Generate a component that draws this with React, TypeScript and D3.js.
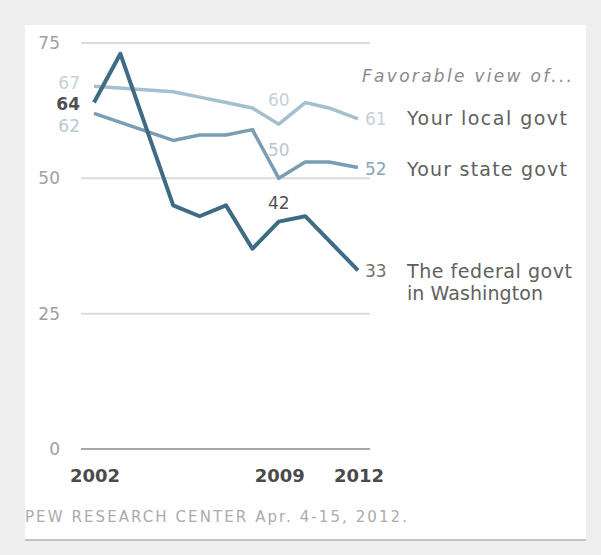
import React from "react";
import * as d3 from "d3";

const fedYears = [2002, 2003, 2005, 2006, 2007, 2008, 2009, 2010, 2012];
const fedValues = [64, 73, 45, 43, 45, 37, 42, 43, 33];
const otherYears = [2002, 2005, 2006, 2007, 2008, 2009, 2010, 2010.9, 2012];
const localValues = [67, 66, 65, 64, 63, 60, 64, 63, 61];
const stateValues = [62, 57, 58, 58, 59, 50, 53, 53, 52];
const yTicks = [0, 25, 50, 75];
const xTicks = [2002, 2009, 2012];

const FONT = "'DejaVu Sans', Verdana, sans-serif";
const C_FED = "#3f6b84";
const C_STATE = "#7a9db3";
const C_LOCAL = "#a4bfcf";

export default function App() {
  const x = d3.scaleLinear().domain([2002, 2012]).range([94, 358]);
  const y = d3.scaleLinear().domain([0, 75]).range([449, 43]);
  const line = d3
    .line<[number, number]>()
    .x((d) => x(d[0]))
    .y((d) => y(d[1]));
  const fed = line(fedYears.map((yr, i) => [yr, fedValues[i]]) as [number, number][]);
  const loc = line(otherYears.map((yr, i) => [yr, localValues[i]]) as [number, number][]);
  const st = line(otherYears.map((yr, i) => [yr, stateValues[i]]) as [number, number][]);

  const last = fedValues.length - 1;
  const i2009 = fedYears.indexOf(2009);
  const j2009 = otherYears.indexOf(2009);

  return (
    <svg
      width={601}
      height={555}
      style={{ position: "absolute", left: 0, top: 0, display: "block" }}
      fontFamily={FONT}
    >
      <rect x={0} y={0} width={601} height={555} fill="#eeeeee" />
      <rect x={25} y={25} width={561} height={514} fill="#ffffff" />
      <line x1={25} x2={586} y1={540} y2={540} stroke="#c4c4c4" strokeWidth={2} />

      {yTicks.map((t) => (
        <g key={t}>
          <line
            x1={81}
            x2={370}
            y1={y(t)}
            y2={y(t)}
            stroke={t === 0 ? "#a8a8a8" : "#dcdcdc"}
            strokeWidth={2}
          />
          <text
            x={60}
            y={y(t)}
            dy="0.35em"
            textAnchor="end"
            fontSize={17}
            fill="#a0a0a0"
          >
            {t}
          </text>
        </g>
      ))}

      {xTicks.map((t) => (
        <text
          key={t}
          x={x(t) + 1}
          y={482}
          textAnchor="middle"
          fontSize={18}
          fontWeight="bold"
          fill="#4a4a4a"
        >
          {t}
        </text>
      ))}

      <path d={loc ?? ""} fill="none" stroke={C_LOCAL} strokeWidth={3.5} strokeLinejoin="round" />
      <path d={st ?? ""} fill="none" stroke={C_STATE} strokeWidth={3.5} strokeLinejoin="round" />
      <path d={fed ?? ""} fill="none" stroke={C_FED} strokeWidth={4} strokeLinejoin="round" />

      {/* start labels */}
      <text x={80} y={y(localValues[0]) - 3} dy="0.35em" textAnchor="end" fontSize={17} fill="#c3d1da">
        {localValues[0]}
      </text>
      <text x={80} y={y(fedValues[0]) + 2} dy="0.35em" textAnchor="end" fontSize={17} fontWeight="bold" fill="#505050">
        {fedValues[0]}
      </text>
      <text x={80} y={y(stateValues[0]) + 13} dy="0.35em" textAnchor="end" fontSize={17} fill="#b9c9d3">
        {stateValues[0]}
      </text>

      {/* 2009 labels */}
      <text x={x(2009)} y={y(localValues[j2009]) - 24} dy="0.35em" textAnchor="middle" fontSize={17} fill="#c6d0d7">
        {localValues[j2009]}
      </text>
      <text x={x(2009)} y={y(stateValues[j2009]) - 28} dy="0.35em" textAnchor="middle" fontSize={17} fill="#b9c7d1">
        {stateValues[j2009]}
      </text>
      <text x={x(2009)} y={y(fedValues[i2009]) - 19} dy="0.35em" textAnchor="middle" fontSize={17} fill="#505050">
        {fedValues[i2009]}
      </text>

      {/* end labels */}
      <text x={365} y={y(localValues[last])} dy="0.35em" fontSize={17} fill="#c6d0d8">
        {localValues[last]}
      </text>
      <text x={365} y={y(stateValues[last]) + 2} dy="0.35em" fontSize={17} fill="#88a4b6">
        {stateValues[last]}
      </text>
      <text x={365} y={y(fedValues[last]) + 1} dy="0.35em" fontSize={17} fill="#707070">
        {fedValues[last]}
      </text>

      <text x={407} y={y(localValues[last])} dy="0.35em" fontSize={19} fill="#606060" textLength={160} lengthAdjust="spacing">
        Your local govt
      </text>
      <text x={407} y={y(stateValues[last]) + 2} dy="0.35em" fontSize={19} fill="#606060" textLength={160} lengthAdjust="spacing">
        Your state govt
      </text>
      <text x={407} y={y(fedValues[last]) + 1} dy="0.35em" fontSize={19} fill="#606060" textLength={165} lengthAdjust="spacing">
        The federal govt
      </text>
      <text x={407} y={y(fedValues[last]) + 23} dy="0.35em" fontSize={19} fill="#606060" textLength={136} lengthAdjust="spacing">
        in Washington
      </text>

      <text x={362} y={76} dy="0.35em" fontSize={17} fontStyle="italic" fill="#8a8a8a" textLength={210} lengthAdjust="spacing">
        Favorable view of...
      </text>

      <text x={25} y={517} dy="0.35em" fontSize={15} fill="#ababab" textLength={382} lengthAdjust="spacing">
        PEW RESEARCH CENTER Apr. 4-15, 2012.
      </text>
    </svg>
  );
}
